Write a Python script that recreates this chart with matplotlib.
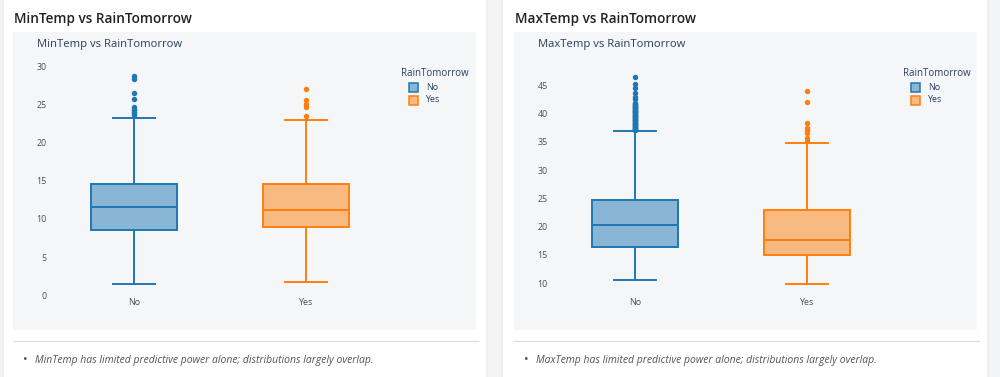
import matplotlib
matplotlib.use("Agg")
import matplotlib.pyplot as plt
from matplotlib.patches import Rectangle, FancyBboxPatch

# ---------------- data ----------------
categories = ["No", "Yes"]

min_no_stats = dict(q1=8.55, med=11.5, q3=14.6, whislo=1.45, whishi=23.25)
min_yes_stats = dict(q1=8.9, med=11.1, q3=14.5, whislo=1.75, whishi=22.9)
min_no_outliers = [28.7, 28.3, 26.5, 25.7, 24.6, 24.4, 24.2, 24.0, 23.8, 23.6]
min_yes_outliers = [27.0, 25.5, 25.0, 24.6, 23.5]

max_no_stats = dict(q1=16.5, med=20.25, q3=24.7, whislo=10.6, whishi=36.85)
max_yes_stats = dict(q1=14.95, med=17.65, q3=22.95, whislo=9.9, whishi=34.85)
max_no_outliers = [46.5, 45.2, 44.5, 43.7, 43.0, 42.5,
                   41.8, 41.7, 41.6, 41.5, 41.4, 41.3, 41.2, 41.1, 41.0,
                   40.9, 40.8, 40.7, 40.6, 40.5, 40.4, 40.3, 40.2, 40.1, 40.0,
                   39.9, 39.8, 39.7, 39.6, 39.5, 39.4, 39.3, 39.2, 39.1, 39.0,
                   38.9, 38.8, 38.7, 38.6, 38.5, 38.4, 38.3, 38.2, 38.1, 38.0,
                   37.9, 37.8, 37.7, 37.6, 37.5, 37.4, 37.3, 37.2, 37.1, 37.0]
max_yes_outliers = [44.0, 42.0, 38.4, 37.4, 37.0, 36.6, 35.6, 35.2]

min_yticks = [0, 5, 10, 15, 20, 25, 30]
max_yticks = [10, 15, 20, 25, 30, 35, 40, 45]

panel_titles = ["MinTemp vs RainTomorrow", "MaxTemp vs RainTomorrow"]
notes = ["MinTemp has limited predictive power alone; distributions largely overlap.",
         "MaxTemp has limited predictive power alone; distributions largely overlap."]
legend_title = "RainTomorrow"
colors = ["#1f77b4", "#ff7f0e"]

# ---------------- figure ----------------
W, H = 1000, 377
fig = plt.figure(figsize=(W / 100, H / 100), dpi=100)
fig.patch.set_facecolor("#f3f4f6")
FONT = "Open Sans"


def fx(x):
    return x / W


def fy(y):
    return 1 - y / H


def frect(x0, y0, x1, y1, z=-1, **kw):
    r = Rectangle((fx(x0), fy(y1)), (x1 - x0) / W, (y1 - y0) / H,
                  transform=fig.transFigure, zorder=z, **kw)
    fig.add_artist(r)
    return r


panels = [
    dict(card=(3, 487), plot=(13, 476), axx=(48, 392), ylim=(-0.62, 30.79),
         stats=[min_no_stats, min_yes_stats], outl=[min_no_outliers, min_yes_outliers],
         yticks=min_yticks, legx=401),
    dict(card=(502, 988), plot=(514, 977), axx=(549, 893), ylim=(7.05, 49.45),
         stats=[max_no_stats, max_yes_stats], outl=[max_no_outliers, max_yes_outliers],
         yticks=max_yticks, legx=903),
]

for i, p in enumerate(panels):
    cx0, cx1 = p["card"]
    card = FancyBboxPatch((fx(cx0), fy(380)), (cx1 - cx0) / W, 382 / H,
                          boxstyle="round,pad=0,rounding_size=0.008",
                          transform=fig.transFigure, facecolor="white",
                          edgecolor="#e6e7ea", linewidth=0.8, zorder=-3)
    fig.add_artist(card)
    px0, px1 = p["plot"]
    frect(px0, 32, px1, 330, z=-2, facecolor="#f4f6f8", edgecolor="none")
    # card title
    fig.text(fx(px0 + 1), fy(19), panel_titles[i], fontsize=9.8, fontweight="semibold",
             family=FONT, color="#1f2328", va="center", ha="left")
    # inner plot title
    fig.text(fx(px0 + 24), fy(44), panel_titles[i], fontsize=8.1, family=FONT,
             color="#2a3f5f", va="center", ha="left")
    # separator and note
    fig.add_artist(plt.Line2D([fx(px0), fx(px1 + 2)], [fy(341), fy(341)],
                              transform=fig.transFigure, color="#dcdde0", lw=0.9))
    fig.text(fx(px0 + 12), fy(360), "\u2022", fontsize=9, family=FONT, color="#555",
             va="center", ha="center")
    fig.text(fx(px0 + 22), fy(360), notes[i], fontsize=7.45, family=FONT, style="italic",
             color="#555", va="center", ha="left")

    # axes
    ax0, ax1 = p["axx"]
    ax = fig.add_axes([fx(ax0), fy(300), (ax1 - ax0) / W, 240 / H])
    ax.set_facecolor("none")
    for s in ax.spines.values():
        s.set_visible(False)
    for j, (st, ol, c) in enumerate(zip(p["stats"], p["outl"], colors)):
        d = dict(st)
        d["fliers"] = ol
        ax.bxp([d], positions=[j], widths=0.495, capwidths=0.24, patch_artist=True,
               showfliers=True,
               boxprops=dict(facecolor=matplotlib.colors.to_rgba(c, 0.5), edgecolor=c, linewidth=1.4),
               medianprops=dict(color=c, linewidth=1.4),
               whiskerprops=dict(color=c, linewidth=1.4),
               capprops=dict(color=c, linewidth=1.4),
               flierprops=dict(marker="o", markersize=2.9, markerfacecolor=c,
                               markeredgecolor=c, linestyle="none"))
    ax.set_xlim(-0.5, 1.5)
    ax.set_ylim(*p["ylim"])
    ax.set_yticks(p["yticks"])
    ax.set_yticklabels([str(t) for t in p["yticks"]], family=FONT, fontsize=6.4, color="#4a4f55")
    ax.set_xticks([0, 1])
    ax.set_xticklabels(categories, family=FONT, fontsize=6.4, color="#4a4f55")
    ax.tick_params(axis="y", length=0, pad=1.0)
    ax.tick_params(axis="x", length=0, pad=-1.6)

    # legend
    lx = p["legx"]
    fig.text(fx(lx), fy(73.5), legend_title, fontsize=7, family=FONT, color="#2a3f5f",
             va="center", ha="left")
    for k, (lab, c) in enumerate(zip(categories, colors)):
        yc = 87 + 13 * k
        frect(lx + 7.5, yc - 4.5, lx + 16.5, yc + 4.5, z=1,
              facecolor=matplotlib.colors.to_rgba(c, 0.5), edgecolor=c, linewidth=1.1)
        fig.text(fx(lx + 25), fy(yc), lab, fontsize=6.4, family=FONT, color="#2a3f5f",
                 va="center", ha="left")

fig.savefig("out.png", dpi=100)
